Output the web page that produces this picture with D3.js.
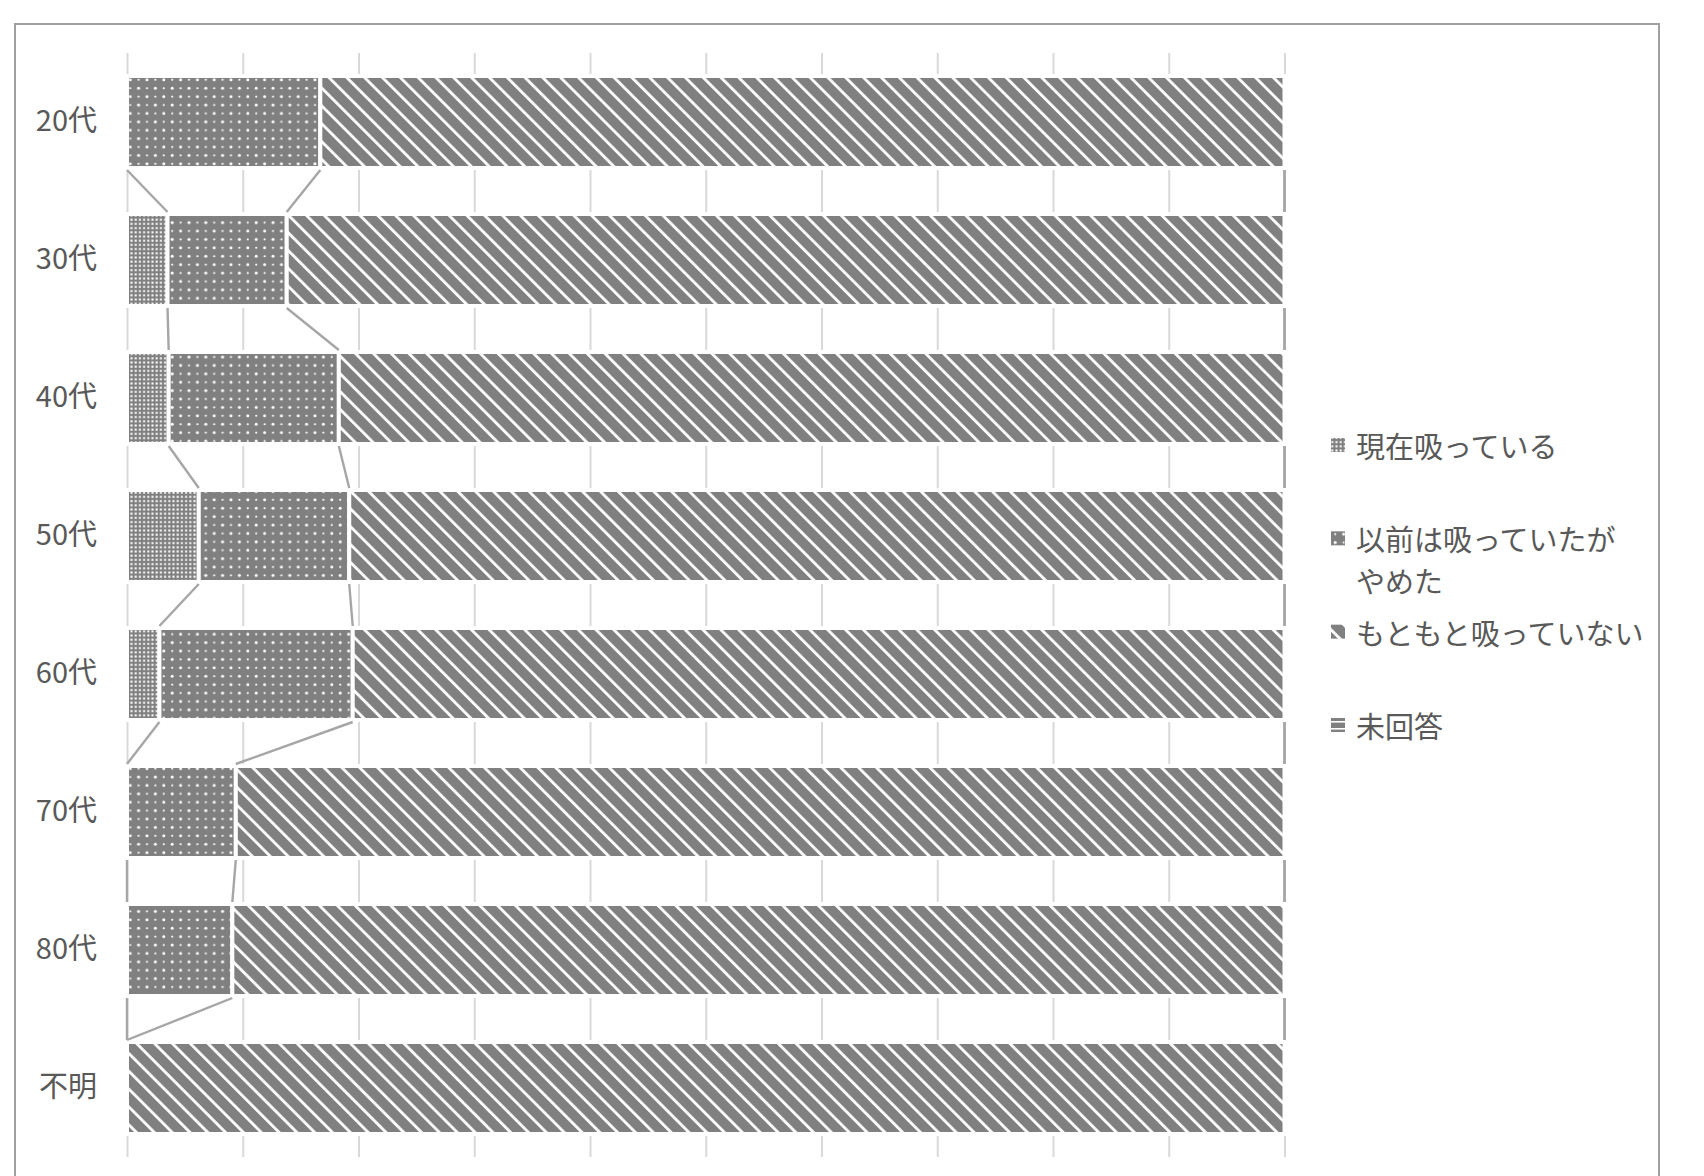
<!DOCTYPE html>
<html lang="ja">
<head>
<meta charset="utf-8">
<script src="https://cdn.jsdelivr.net/npm/d3@7"></script>
<style>
  html, body { margin: 0; padding: 0; background: #ffffff; }
  svg { display: block; font-family: "Noto Sans CJK JP", "Noto Sans", sans-serif; }
</style>
</head>
<body>
<svg id="chart" width="1704" height="1176"></svg>
<script>
// Age groups (top to bottom)
const categories = ["20代", "30代", "40代", "50代", "60代", "70代", "80代", "不明"];

// Share of respondents (%) per answer
const current   = [0.0, 3.5, 3.6, 6.2, 2.8, 0.0, 0.0, 0.0];      // 現在吸っている
const former    = [16.7, 10.3, 14.7, 13.0, 16.7, 9.4, 9.1, 0.0]; // 以前は吸っていたがやめた
const never     = [83.3, 86.2, 81.7, 80.8, 80.5, 90.6, 90.9, 100.0]; // もともと吸っていない
const noAnswer  = [0.0, 0.0, 0.0, 0.0, 0.0, 0.0, 0.0, 0.0];      // 未回答

const seriesKeys  = ["current", "former", "never", "noAnswer"];
const seriesNames = ["現在吸っている", "以前は吸っていたが\nやめた", "もともと吸っていない", "未回答"];
const gridTicks   = [0, 0.1, 0.2, 0.3, 0.4, 0.5, 0.6, 0.7, 0.8, 0.9, 1.0];

const rows = categories.map((c, i) => ({
  cat: c, current: current[i], former: former[i], never: never[i], noAnswer: noAnswer[i]
}));

const svg = d3.select("#chart");
const gray = "#808080";
const textColor = "#595959";

// ---- fill patterns ----
const defs = svg.append("defs");

// dense dotted grid
const pA = defs.append("pattern").attr("id", "pat-current")
  .attr("patternUnits", "userSpaceOnUse").attr("width", 4.2).attr("height", 4.2);
pA.append("rect").attr("width", 4.2).attr("height", 4.2).attr("fill", gray);
pA.append("rect").attr("x", 0.3).attr("y", 0.3).attr("width", 2).attr("height", 2).attr("fill", "#ffffff");

// sparse white dots
const pB = defs.append("pattern").attr("id", "pat-former")
  .attr("patternUnits", "userSpaceOnUse").attr("width", 16.8).attr("height", 16.8);
pB.append("rect").attr("width", 16.8).attr("height", 16.8).attr("fill", gray);
[[4.2, 4.2, 1.5], [12.6, 12.6, 1.5], [12.6, 4.2, 1.1], [4.2, 12.6, 1.1]].forEach(([cx, cy, r]) =>
  pB.append("circle").attr("cx", cx).attr("cy", cy).attr("r", r).attr("fill", "#ffffff"));

// wide downward diagonal stripes
const pC = defs.append("pattern").attr("id", "pat-never")
  .attr("patternUnits", "userSpaceOnUse").attr("width", 12.6).attr("height", 12.6)
  .attr("patternTransform", "rotate(-45)");
pC.append("rect").attr("width", 12.6).attr("height", 12.6).attr("fill", gray);
pC.append("rect").attr("x", 0).attr("width", 2.8).attr("height", 12.6).attr("fill", "#ffffff");

// horizontal stripes
const pD = defs.append("pattern").attr("id", "pat-noAnswer")
  .attr("patternUnits", "userSpaceOnUse").attr("width", 6).attr("height", 7);
pD.append("rect").attr("width", 6).attr("height", 7).attr("fill", gray);
pD.append("rect").attr("y", 3).attr("width", 6).attr("height", 1.6).attr("fill", "#ffffff");

const fillFor = key => `url(#pat-${key})`;

// ---- chart frame ----
svg.append("rect")
  .attr("x", 15).attr("y", 24).attr("width", 1644).attr("height", 1220)
  .attr("fill", "none").attr("stroke", "#a0a0a0").attr("stroke-width", 2);

// ---- scales ----
const x = d3.scaleLinear().domain([0, 1]).range([127, 1284.5]);
const y = d3.scaleBand().domain(categories).range([53, 1157])
  .paddingInner(1 / 3).paddingOuter(1 / 6);
const bw = y.bandwidth();

// ---- vertical gridlines ----
const gridAxis = d3.axisBottom(x).tickValues(gridTicks).tickSize(-(1157 - 53)).tickFormat("");
const gGrid = svg.append("g").attr("transform", "translate(0,1157)").call(gridAxis);
gGrid.select(".domain").remove();
gGrid.selectAll(".tick line").attr("stroke", "#d9d9d9").attr("stroke-width", 2);

// ---- stacked bars (100%) ----
const stacked = d3.stack().keys(seriesKeys).offset(d3.stackOffsetExpand)(rows);

svg.append("g").selectAll("g")
  .data(stacked).join("g")
  .attr("fill", d => fillFor(d.key))
  .selectAll("rect")
  .data(d => d.filter(p => p[1] - p[0] > 0))
  .join("rect")
  .attr("x", p => x(p[0]))
  .attr("y", p => y(p.data.cat))
  .attr("width", p => x(p[1]) - x(p[0]))
  .attr("height", bw)
  .attr("stroke", "#ffffff")
  .attr("stroke-width", 4);

// ---- series lines between neighbouring bars ----
const links = [];
stacked.forEach(s => {
  for (let i = 0; i < categories.length - 1; i++) {
    links.push({
      x1: x(s[i][1]), y1: y(categories[i]) + bw + 2,
      x2: x(s[i + 1][1]), y2: y(categories[i + 1]) - 2
    });
  }
});
svg.append("g").selectAll("line")
  .data(links).join("line")
  .attr("x1", d => d.x1).attr("y1", d => d.y1)
  .attr("x2", d => d.x2).attr("y2", d => d.y2)
  .attr("stroke", "#a6a6a6").attr("stroke-width", 2.4);

// ---- category labels ----
const yAxis = d3.axisLeft(y).tickSize(0).tickPadding(30);
const gY = svg.append("g").attr("transform", "translate(127,0)").call(yAxis);
gY.select(".domain").remove();
gY.selectAll(".tick text")
  .attr("fill", textColor)
  .style("font-size", "29px")
  .style("font-family", "'Noto Sans CJK JP', sans-serif");

// ---- legend ----
const ly = d3.scalePoint().domain(seriesKeys).range([445, 725]);
const legend = svg.append("g").selectAll("g")
  .data(seriesKeys).join("g")
  .attr("transform", k => `translate(1331,${ly(k)})`);
legend.append("rect")
  .attr("x", 0).attr("y", -7).attr("width", 14).attr("height", 14)
  .attr("fill", k => fillFor(k));
legend.append("text")
  .attr("x", 25).attr("y", 0)
  .attr("fill", textColor)
  .style("font-size", "29px")
  .attr("dominant-baseline", "central")
  .each(function (k, i) {
    const lines = seriesNames[i].split("\n");
    const t = d3.select(this);
    lines.forEach((ln, j) => {
      t.append("tspan").attr("x", 25).attr("dy", j === 0 ? 0 : 42).text(ln);
    });
  });
</script>
</body>
</html>
